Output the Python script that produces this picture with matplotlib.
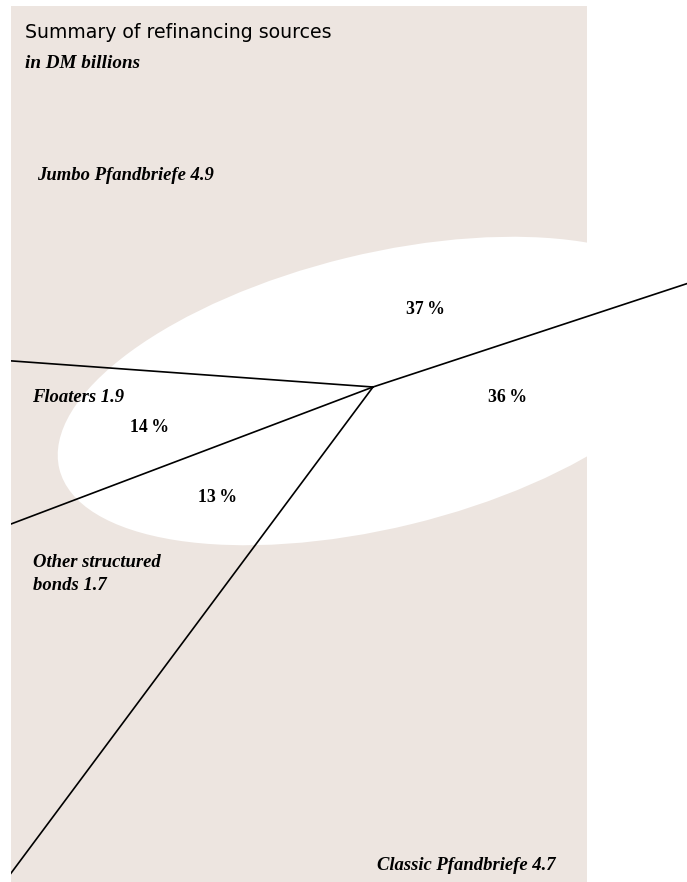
import math
import matplotlib
matplotlib.use("Agg")
import matplotlib.pyplot as plt
from matplotlib.patches import Rectangle, Ellipse

# data (DM billions)
labels = ["Jumbo Pfandbriefe", "Floaters", "Other structured\nbonds", "Classic Pfandbriefe"]
values = [4.9, 1.9, 1.7, 4.7]

# layout in pixel coords of the 687x882 picture
W, H = 687, 882
cx, cy = 373, 387           # pie centre (where the borders meet)
ex, ey = 379, 391           # centre of the white ellipse (perspective shift)
a, b = 329, 137             # ellipse half axes
tilt = 13.7                 # ellipse tilt (degrees, rising to the right)
squash = 0.44               # how flat the pie disc looks for the slice borders
start = 10.2                # start angle on the un-projected circle
beige = "#ede5e0"

label_pos = [(37, 175), (32, 397), (33, 574), (377, 865)]
pct_pos = [(425, 310), (150, 428), (217, 498), (508, 397)]

serif = "Liberation Serif"


# direction on the tilted, squashed disc for circle angle t (degrees), y axis pointing down
def diskdir(t, length):
    u = math.cos(math.radians(t)) * length
    v = -squash * math.sin(math.radians(t)) * length
    p = math.radians(-tilt)
    x = u * math.cos(p) - v * math.sin(p)
    y = u * math.sin(p) + v * math.cos(p)
    return x, y


fig = plt.figure(figsize=(W / 100, H / 100), dpi=100)
ax = fig.add_axes([0, 0, 1, 1])
ax.set_xlim(0, W)
ax.set_ylim(H, 0)
ax.axis("off")

ax.add_patch(Rectangle((11, 6), 576, H - 6, facecolor=beige, edgecolor="none", zorder=0))
ax.add_patch(Ellipse((ex, ey), 2 * a, 2 * b, angle=-tilt, facecolor="white", edgecolor="none", zorder=1))

# slice borders, drawn as long rays from the centre
total = sum(values)
clip = Rectangle((11, 0), W - 11, H, transform=ax.transData)
ang = start
for v in values:
    dx, dy = diskdir(ang, 1400)
    ln, = ax.plot([cx, cx + dx], [cy, cy + dy], color="black", lw=1.2, zorder=3)
    ln.set_clip_path(clip)
    ang += 360.0 * v / total

for i in range(len(values)):
    txt = "%s %.1f" % (labels[i], values[i])
    ax.text(label_pos[i][0], label_pos[i][1], txt, family=serif, style="italic",
            weight="bold", fontsize=13.4, va="center", ha="left", linespacing=1.45, zorder=4)
    pct = round(100 * values[i] / total)
    ax.text(pct_pos[i][0], pct_pos[i][1], "%d\u2009%%" % pct, family=serif,
            weight="bold", fontsize=12.8, va="center", ha="center", zorder=4)

ax.text(25, 32, "Summary of refinancing sources", family="DejaVu Sans", fontsize=13.6,
        va="center", ha="left", color="black")
ax.text(25, 63, "in DM billions", family=serif, style="italic", weight="bold",
        fontsize=13.8, va="center", ha="left")

fig.savefig("out.png", dpi=100)
